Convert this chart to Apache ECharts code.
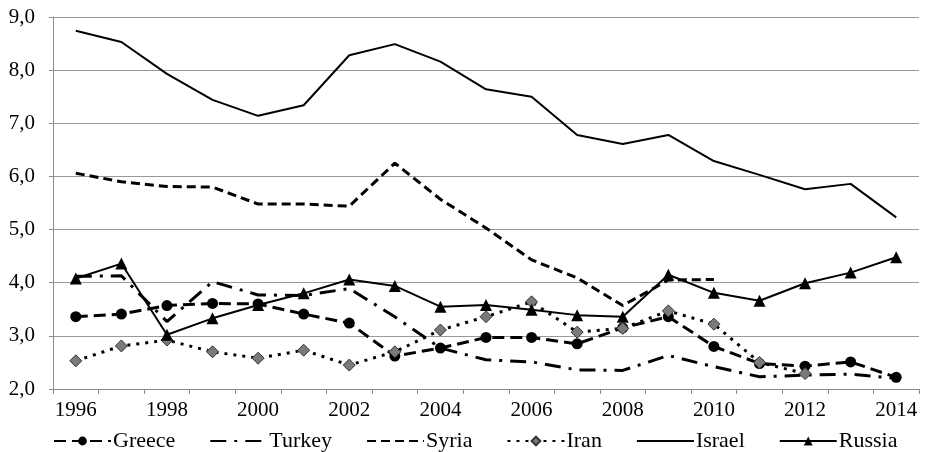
<!DOCTYPE html>
<html>
<head>
<meta charset="utf-8">
<script src="https://cdn.jsdelivr.net/npm/echarts@6/dist/echarts.min.js"></script>
<style>
  html, body { margin: 0; padding: 0; background: #fff; }
  #chart { width: 932px; height: 452px; }
</style>
</head>
<body>
<div id="chart"></div>
<script>
var years = ['1996', '1997', '1998', '1999', '2000', '2001', '2002', '2003', '2004', '2005',
  '2006', '2007', '2008', '2009', '2010', '2011', '2012', '2013', '2014'];

var greece = [3.36, 3.41, 3.57, 3.61, 3.60, 3.41, 3.24, 2.62, 2.77, 2.97, 2.97, 2.85, 3.15, 3.36, 2.80, 2.48, 2.43, 2.51, 2.22];
var turkey = [4.12, 4.13, 3.27, 4.02, 3.77, 3.76, 3.89, 3.36, 2.77, 2.55, 2.51, 2.36, 2.35, 2.63, 2.42, 2.23, 2.26, 2.28, 2.20];
var syria = [6.06, 5.90, 5.81, 5.80, 5.48, 5.48, 5.44, 6.25, 5.57, 5.03, 4.43, 4.09, 3.57, 4.05, 4.06, null, null, null, null];
var iran = [2.53, 2.81, 2.92, 2.70, 2.58, 2.73, 2.45, 2.70, 3.11, 3.36, 3.64, 3.07, 3.14, 3.47, 3.22, 2.50, 2.29, null, null];
var israel = [8.74, 8.53, 7.93, 7.44, 7.14, 7.34, 8.28, 8.49, 8.16, 7.64, 7.50, 6.78, 6.61, 6.78, 6.29, 6.03, 5.76, 5.86, 5.23];
var russia = [4.08, 4.36, 3.02, 3.33, 3.58, 3.80, 4.06, 3.94, 3.55, 3.58, 3.49, 3.39, 3.36, 4.15, 3.81, 3.66, 3.99, 4.19, 4.48];

var font = 'Liberation Serif';
var chart = echarts.init(document.getElementById('chart'));

function lineSeries(name, data, dash, width, symbol, symbolSize, fill) {
  return {
    name: name,
    type: 'line',
    data: data,
    symbol: symbol,
    symbolSize: symbolSize,
    showSymbol: symbol !== 'none',
    connectNulls: false,
    animation: false,
    itemStyle: { color: fill, borderColor: '#333', borderWidth: symbol === 'diamond' ? 1 : 0 },
    lineStyle: { color: '#000', width: width, type: dash, cap: 'butt' }
  };
}

// series without markers: hide the circle the legend would draw
var noMark = { opacity: 0 };

var option = {
  backgroundColor: '#fff',
  animation: false,
  grid: { left: 53, right: 13, top: 17, bottom: 63 },
  legend: {
    left: 48,
    top: 425,
    itemWidth: 57,
    itemHeight: 11,
    itemGap: 34,
    textStyle: { fontFamily: font, fontSize: 22, color: '#000', padding: [0, 0, 0, -3] },
    data: [
      { name: 'Greece' },
      { name: 'Turkey', itemStyle: noMark },
      { name: 'Syria', itemStyle: noMark },
      { name: 'Iran' },
      { name: 'Israel', itemStyle: noMark },
      { name: 'Russia' }
    ]
  },
  xAxis: {
    type: 'category',
    data: years,
    boundaryGap: true,
    axisLine: { lineStyle: { color: '#8c8c8c', width: 1 } },
    axisTick: { show: true, interval: 0, length: 5, lineStyle: { color: '#8c8c8c' } },
    axisLabel: { interval: 1, color: '#000', fontFamily: font, fontSize: 21, margin: 11 }
  },
  yAxis: {
    type: 'value',
    min: 2,
    max: 9,
    interval: 1,
    axisLine: { show: true, lineStyle: { color: '#8c8c8c', width: 1 } },
    axisTick: { show: true, length: 4, lineStyle: { color: '#8c8c8c' } },
    splitLine: { lineStyle: { color: '#999', width: 1 } },
    axisLabel: {
      color: '#000', fontFamily: font, fontSize: 21, margin: 18,
      formatter: function (v) { return v.toFixed(1).replace('.', ','); }
    }
  },
  series: [
    lineSeries('Greece', greece, [12, 6], 3, 'circle', 11, '#000'),
    lineSeries('Turkey', turkey, [16, 8, 3, 8], 3, 'none', 0, '#000'),
    lineSeries('Syria', syria, [9, 5], 3, 'none', 0, '#000'),
    lineSeries('Iran', iran, [3, 6], 3, 'diamond', 12, '#7a7a7a'),
    lineSeries('Israel', israel, 'solid', 2, 'none', 0, '#000'),
    lineSeries('Russia', russia, 'solid', 2, 'triangle', 12, '#000')
  ]
};

chart.setOption(option);
</script>
</body>
</html>
